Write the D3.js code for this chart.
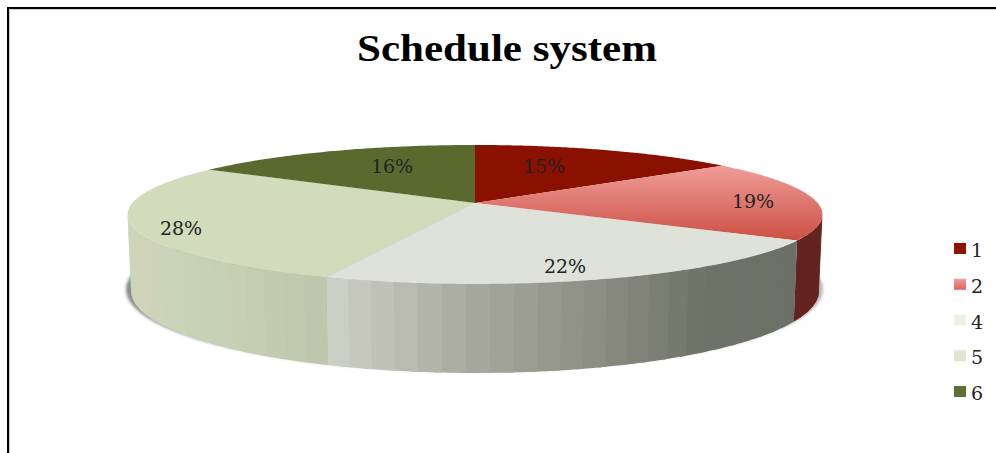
<!DOCTYPE html>
<html><head><meta charset="utf-8">
<script src="https://cdnjs.cloudflare.com/ajax/libs/d3/7.8.5/d3.min.js"></script>
<style>html,body{margin:0;padding:0;background:#fff}svg{display:block}text{font-family:"DejaVu Serif",serif}</style>
</head><body><div id="c"></div>
<script>
const categories=["1","2","4","5","6"];
const values=[14.6,18.9,22.49,28.01,16];
const topColors=["#8a1000","url(#g2)","#dfe2d8","#d3dbbd","#5a6a2f"];
const legendColors=["#8f1400","url(#gl)","#edf0e4","#e0e6c9","#5f7033"];
const title="Schedule system";
const W=996,H=453;
const cx=475,cy=203,a=342.7,b=67.6,k=-0.165,c=74.3;
const svg=d3.select("#c").append("svg").attr("width",W).attr("height",H);
const defs=svg.append("defs");
const g2=defs.append("linearGradient").attr("id","g2").attr("gradientUnits","userSpaceOnUse").attr("x1",0).attr("x2",0).attr("y1",165).attr("y2",240);
g2.append("stop").attr("offset",0).attr("stop-color","#f09e9a");
g2.append("stop").attr("offset",1).attr("stop-color","#cc5044");
const gl=defs.append("linearGradient").attr("id","gl").attr("x1",0).attr("x2",0).attr("y1",0).attr("y2",1);
gl.append("stop").attr("offset",0).attr("stop-color","#f09e9a");
gl.append("stop").attr("offset",1).attr("stop-color","#d9665c");
defs.append("filter").attr("id","blur").attr("x","-10%").attr("y","-20%").attr("width","120%").attr("height","140%")
  .append("feGaussianBlur").attr("stdDeviation",1.8);
const sg=defs.append("linearGradient").attr("id","sg").attr("x1",0).attr("x2",1).attr("y1",0).attr("y2",0);
sg.append("stop").attr("offset",0).attr("stop-color","#8a8a8a");
sg.append("stop").attr("offset",0.3).attr("stop-color","#b0b0b0");
sg.append("stop").attr("offset",1).attr("stop-color","#b8b8b8");
function P(t,depth,s){const u=Math.sin(t),v=-Math.cos(t),w=1+k*v;s=s===undefined?1-0.01*depth:s;
  return [cx+s*a*u/w, cy+(b*v+c*depth)/w];}
const arcs=d3.pie().sort(null).value(d=>d)(values);
const line=d3.line();
const pr=d3.range(0,361,2).map(d=>d*Math.PI/180);
// shadow
svg.append("path").attr("d",line(pr.map(t=>{const p=P(t,1,1.003);return [p[0]-0.5,p[1]-1.5]}))+"Z")
  .attr("fill","url(#sg)").attr("filter","url(#blur)");
// visible side strips
const sideStops={
 1:{d:[0,1],r:["#65231f","#65231f"]},
 2:{d:[0,0.3,0.5,0.75,1],r:["#6b7066","#6e7267","#8a8b80","#aaaba0","#cfd2c7"]},
 3:{d:[0,0.25,0.5,0.75,0.9,1],r:["#bdc6ac","#c6cfb2","#c8d3b8","#d0d3b8","#ccd8bc","#c7cbaf"]}
};
const side=svg.append("g");
arcs.forEach((d,i)=>{
  const s=sideStops[i]; if(!s) return;
  const t0=Math.max(d.startAngle,Math.PI/2+0.166), t1=Math.min(d.endAngle,3*Math.PI/2-0.166);
  if(t1<=t0) return;
  const col=d3.scaleLinear().domain(s.d).range(s.r).interpolate(d3.interpolateRgb);
  const n=Math.max(1,Math.round((t1-t0)/0.06));
  d3.range(n).forEach(j=>{
    const a0=t0+(t1-t0)*j/n,a1=Math.min(t0+(t1-t0)*(j+1)/n+0.02,t1);
    const q=d3.range(0,7).map(m=>a0+(a1-a0)*m/6);
    const pts=q.map(t=>P(t,0)).concat(q.slice().reverse().map(t=>P(t,1)));
    side.append("path").attr("d",line(pts)+"Z").attr("fill",col((j+0.5)/n));
  });
});
// top face
const topG=svg.append("g");
arcs.forEach((d,i)=>{
  const n=Math.ceil((d.endAngle-d.startAngle)/0.01);
  const pts=[[cx,cy]].concat(d3.range(n+1).map(j=>P(d.startAngle+(d.endAngle-d.startAngle)*j/n,0)));
  topG.append("path").attr("d",line(pts)+"Z").attr("fill",topColors[i]);
});
// labels
const labels=values.map(v=>d3.format(".0f")(v)+"%");
const labelPos=[[544,166],[753,201],[565,266],[181,228],[392,166]];
svg.append("g").selectAll("text").data(labels).join("text")
  .attr("x",(d,i)=>labelPos[i][0]).attr("y",(d,i)=>labelPos[i][1]).attr("dy","0.36em")
  .attr("text-anchor","middle").attr("font-size",19).attr("fill","#222").text(d=>d);
// title
svg.append("text").attr("x",357).attr("y",61).style("font-family","Liberation Serif")
  .attr("font-size",38).attr("font-weight","bold").attr("fill","#000")
  .attr("textLength",300).attr("lengthAdjust","spacingAndGlyphs").text(title);
// legend
const ly=d3.scalePoint().domain(categories).range([249,392]);
const lg=svg.append("g").selectAll("g").data(categories).join("g").attr("transform",d=>`translate(954,${ly(d)})`);
lg.append("rect").attr("x",0).attr("y",-6).attr("width",12).attr("height",11).attr("fill",(d,i)=>legendColors[i]);
lg.append("text").attr("x",17).attr("y",1).attr("dy","0.37em").attr("font-size",19).attr("fill","#222").text(d=>d);
// frame
svg.append("path").attr("d",`M9.5 ${H}V9.5H${W}`).attr("fill","none").attr("stroke","#ccc").attr("stroke-width",1);
svg.append("path").attr("d",`M8 ${H}V8H${W}`).attr("fill","none").attr("stroke","#000").attr("stroke-width",2);
</script></body></html>
